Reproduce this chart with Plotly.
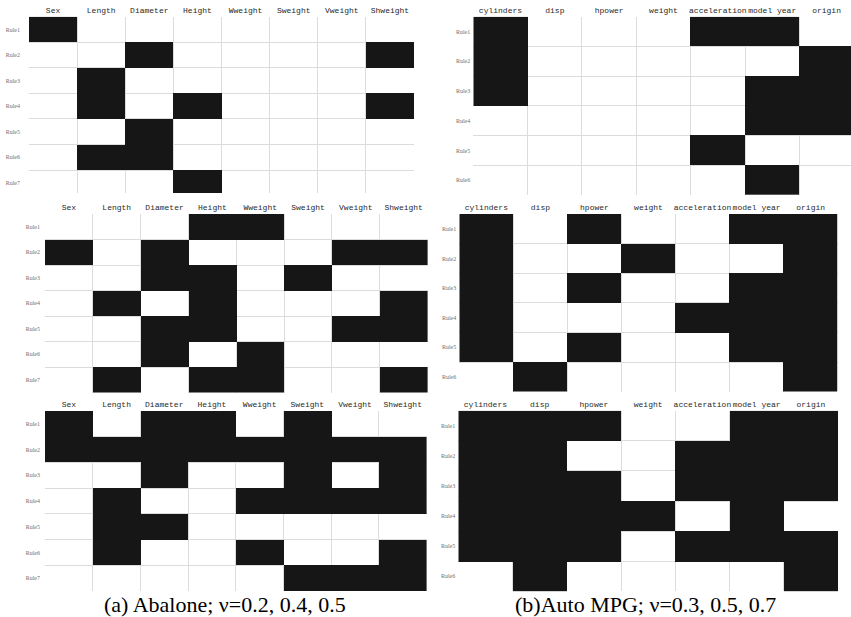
import plotly.graph_objects as go

W, H = 851, 617

abalone_features = ["Sex", "Length", "Diameter", "Height", "Wweight", "Sweight", "Vweight", "Shweight"]
abalone_rules = ["Rule1", "Rule2", "Rule3", "Rule4", "Rule5", "Rule6", "Rule7"]
auto_features = ["cylinders", "disp", "hpower", "weight", "acceleration", "model year", "origin"]
auto_rules = ["Rule1", "Rule2", "Rule3", "Rule4", "Rule5", "Rule6"]

# Abalone, nu = 0.2
abalone_nu02 = [
    [1, 0, 0, 0, 0, 0, 0, 0],
    [0, 0, 1, 0, 0, 0, 0, 1],
    [0, 1, 0, 0, 0, 0, 0, 0],
    [0, 1, 0, 1, 0, 0, 0, 1],
    [0, 0, 1, 0, 0, 0, 0, 0],
    [0, 1, 1, 0, 0, 0, 0, 0],
    [0, 0, 0, 1, 0, 0, 0, 0],
]
# Abalone, nu = 0.4
abalone_nu04 = [
    [0, 0, 0, 1, 1, 0, 0, 0],
    [1, 0, 1, 0, 0, 0, 1, 1],
    [0, 0, 1, 1, 0, 1, 0, 0],
    [0, 1, 0, 1, 0, 0, 0, 1],
    [0, 0, 1, 1, 0, 0, 1, 1],
    [0, 0, 1, 0, 1, 0, 0, 0],
    [0, 1, 0, 1, 1, 0, 0, 1],
]
# Abalone, nu = 0.5
abalone_nu05 = [
    [1, 0, 1, 1, 0, 1, 0, 0],
    [1, 1, 1, 1, 1, 1, 1, 1],
    [0, 0, 1, 0, 0, 1, 0, 1],
    [0, 1, 0, 0, 1, 1, 1, 1],
    [0, 1, 1, 0, 0, 0, 0, 0],
    [0, 1, 0, 0, 1, 0, 0, 1],
    [0, 0, 0, 0, 0, 1, 1, 1],
]
# Auto MPG, nu = 0.3
auto_nu03 = [
    [1, 0, 0, 0, 1, 1, 0],
    [1, 0, 0, 0, 0, 0, 1],
    [1, 0, 0, 0, 0, 1, 1],
    [0, 0, 0, 0, 0, 1, 1],
    [0, 0, 0, 0, 1, 0, 0],
    [0, 0, 0, 0, 0, 1, 0],
]
# Auto MPG, nu = 0.5
auto_nu05 = [
    [1, 0, 1, 0, 0, 1, 1],
    [1, 0, 0, 1, 0, 0, 1],
    [1, 0, 1, 0, 0, 1, 1],
    [1, 0, 0, 0, 1, 1, 1],
    [1, 0, 1, 0, 0, 1, 1],
    [0, 1, 0, 0, 0, 0, 1],
]
# Auto MPG, nu = 0.7
auto_nu07 = [
    [1, 1, 1, 0, 0, 1, 1],
    [1, 1, 0, 0, 1, 1, 1],
    [1, 1, 1, 0, 1, 1, 1],
    [1, 1, 1, 1, 0, 1, 0],
    [1, 1, 1, 0, 1, 1, 1],
    [0, 1, 0, 0, 0, 0, 1],
]

captions = ["(a) Abalone; \u03bd=0.2, 0.4, 0.5", "(b)Auto MPG; \u03bd=0.3, 0.5, 0.7"]

# panel geometry in pixels: (x0, x1, y_top, y_bottom), visible range ends, y-label standoff
panels = [
    (abalone_nu02, abalone_features, abalone_rules, (29, 414, 16.7, 193), (7.5, 6.4), 8),
    (auto_nu03, auto_features, auto_rules, (473.3, 851, 16.7, 195), (6.45, 5.5), 2),
    (abalone_nu04, abalone_features, abalone_rules, (45, 427.6, 214, 392.5), (7.5, 6.5), 4),
    (auto_nu05, auto_features, auto_rules, (459.3, 837.7, 214, 391.6), (6.5, 5.5), 2),
    (abalone_nu05, abalone_features, abalone_rules, (45, 426.6, 411, 591), (7.5, 6.5), 4),
    (auto_nu07, auto_features, auto_rules, (458.3, 838, 410.7, 591.3), (6.5, 5.5), 2),
]

BLACK = "#161616"
GRID = "#dcdcdc"

fig = go.Figure()
layout = dict(
    width=W, height=H,
    margin=dict(l=0, r=0, t=0, b=0, autoexpand=False),
    paper_bgcolor="white", plot_bgcolor="white",
    showlegend=False,
)

for i, (mat, feats, rules, (px0, px1, py0, py1), (xmax, ymax), stand) in enumerate(panels):
    k = "" if i == 0 else str(i + 1)
    ncol, nrow = len(feats), len(rules)
    z = [[1 if v else None for v in row] for row in mat]
    fig.add_trace(go.Heatmap(
        z=z, x=list(range(ncol)), y=list(range(nrow)),
        colorscale=[[0, BLACK], [1, BLACK]], zmin=0, zmax=1,
        showscale=False, hoverinfo="skip",
        xaxis="x" + k, yaxis="y" + k,
    ))
    layout["xaxis" + k] = dict(
        domain=[px0 / W, px1 / W], anchor="y" + k, side="top",
        range=[-0.5, xmax], tickvals=list(range(ncol)), ticktext=feats,
        tickangle=0, automargin=False, ticklabeloverflow="allow",
        showgrid=False, zeroline=False, showline=False, ticks="",
        tickfont=dict(family="Liberation Mono", size=8, color="#2a2a2a"),
        ticklabelstandoff=1,
        minor=dict(tickvals=[j - 0.5 for j in range(ncol + 1)], showgrid=True,
                   gridcolor=GRID, gridwidth=1, ticks=""),
        fixedrange=True,
    )
    layout["yaxis" + k] = dict(
        domain=[1 - py1 / H, 1 - py0 / H], anchor="x" + k,
        range=[ymax, -0.5], tickvals=list(range(nrow)), ticktext=rules,
        automargin=False,
        showgrid=False, zeroline=False, showline=False, ticks="",
        tickfont=dict(family="Liberation Serif", size=6, color="#707070"),
        ticklabelstandoff=stand,
        minor=dict(tickvals=[j - 0.5 for j in range(nrow + 1)], showgrid=True,
                   gridcolor=GRID, gridwidth=1, ticks=""),
        fixedrange=True,
    )

layout["annotations"] = [
    dict(text=captions[0], x=225 / W, y=1 - 604 / H, xref="paper", yref="paper",
         xanchor="center", yanchor="middle", showarrow=False,
         font=dict(family="Liberation Serif", size=22, color="black")),
    dict(text=captions[1], x=645 / W, y=1 - 604 / H, xref="paper", yref="paper",
         xanchor="center", yanchor="middle", showarrow=False,
         font=dict(family="Liberation Serif", size=22, color="black")),
]

fig.update_layout(**layout)
fig.write_html(
    "out.html",
    config={"displayModeBar": False, "staticPlot": True},
    post_script="document.body.style.margin='0';document.body.style.overflow='hidden';",
)
